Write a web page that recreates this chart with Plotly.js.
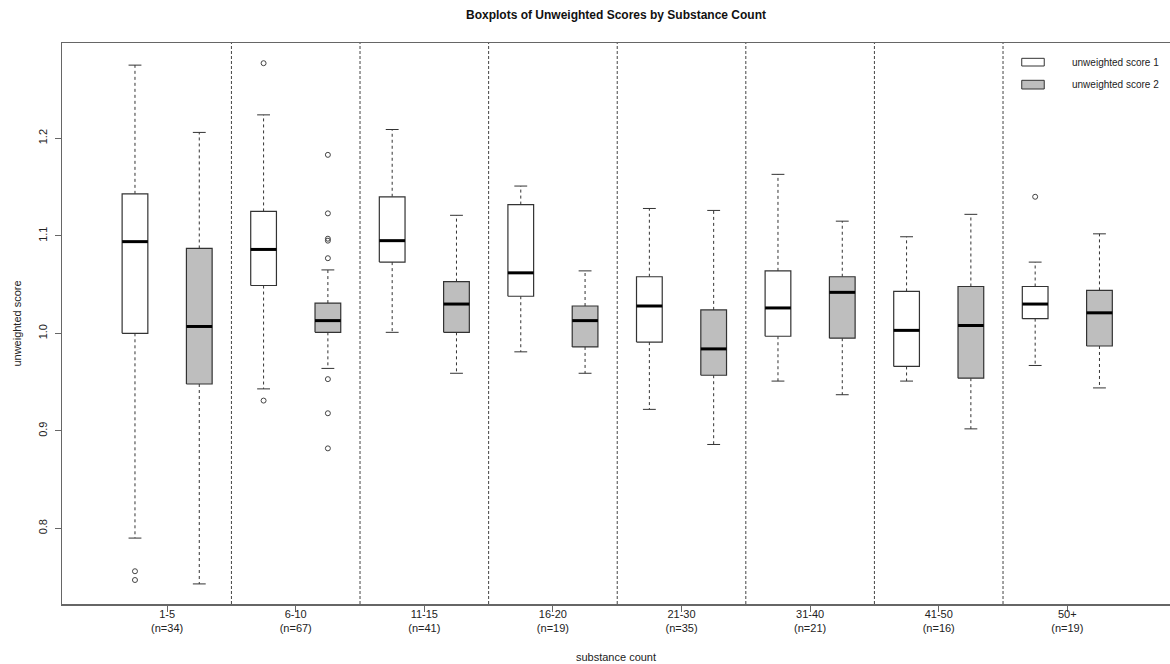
<!DOCTYPE html>
<html>
<head>
<meta charset="utf-8">
<script src="https://cdn.plot.ly/plotly-3.0.1.min.js"></script>
<style>html,body{margin:0;padding:0;background:#fff;}#chart{width:1170px;height:664px;}</style>
</head>
<body>
<div id="chart"></div>
<script>
// ---- data ----
const groups = ['1-5', '6-10', '11-15', '16-20', '21-30', '31-40', '41-50', '50+'];
const counts = [34, 67, 41, 19, 35, 21, 16, 19];

// unweighted score 1
const s1Upper = [1.275, 1.224, 1.209, 1.151, 1.128, 1.163, 1.099, 1.073];
const s1Q3    = [1.143, 1.125, 1.140, 1.132, 1.058, 1.064, 1.043, 1.048];
const s1Med   = [1.094, 1.086, 1.095, 1.062, 1.028, 1.026, 1.003, 1.030];
const s1Q1    = [1.000, 1.049, 1.073, 1.038, 0.991, 0.997, 0.966, 1.015];
const s1Lower = [0.790, 0.943, 1.001, 0.981, 0.922, 0.951, 0.951, 0.967];
const s1Out   = [[0.756, 0.747], [1.277, 0.931], [], [], [], [], [], [1.140]];

// unweighted score 2
const s2Upper = [1.206, 1.065, 1.121, 1.064, 1.126, 1.115, 1.122, 1.102];
const s2Q3    = [1.087, 1.031, 1.053, 1.028, 1.024, 1.058, 1.048, 1.044];
const s2Med   = [1.007, 1.013, 1.030, 1.013, 0.984, 1.042, 1.008, 1.021];
const s2Q1    = [0.948, 1.001, 1.001, 0.986, 0.957, 0.995, 0.954, 0.987];
const s2Lower = [0.743, 0.964, 0.959, 0.959, 0.886, 0.937, 0.902, 0.944];
const s2Out   = [[], [1.183, 1.123, 1.097, 1.095, 1.077, 0.953, 0.918, 0.882], [], [], [], [], [], []];

const seriesNames = ['unweighted score 1', 'unweighted score 2'];
const fills = ['#ffffff', '#bebebe'];

// ---- build traces ----
const HALF = 0.2, CAP = 0.1;
const edge = '#333333';
const series = [
  {upper: s1Upper, q3: s1Q3, med: s1Med, q1: s1Q1, lower: s1Lower, out: s1Out, off: 1},
  {upper: s2Upper, q3: s2Q3, med: s2Med, q1: s2Q1, lower: s2Lower, out: s2Out, off: 2}
];
const traces = [];
series.forEach((s, si) => {
  const bx = [], by = [], mx = [], my = [], wx = [], wy = [], cx = [], cy = [], ox = [], oy = [];
  groups.forEach((g, i) => {
    const p = 2 * i + s.off;
    bx.push(p - HALF, p + HALF, p + HALF, p - HALF, p - HALF, null);
    by.push(s.q1[i], s.q1[i], s.q3[i], s.q3[i], s.q1[i], null);
    mx.push(p - HALF, p + HALF, null); my.push(s.med[i], s.med[i], null);
    wx.push(p, p, null, p, p, null);
    wy.push(s.q3[i], s.upper[i], null, s.q1[i], s.lower[i], null);
    cx.push(p - CAP, p + CAP, null, p - CAP, p + CAP, null);
    cy.push(s.upper[i], s.upper[i], null, s.lower[i], s.lower[i], null);
    s.out[i].forEach(v => { ox.push(p); oy.push(v); });
  });
  traces.push({type: 'scatter', mode: 'lines', x: wx, y: wy, line: {color: edge, width: 1, dash: '3px,3px'}, hoverinfo: 'skip', showlegend: false});
  traces.push({type: 'scatter', mode: 'lines', x: cx, y: cy, line: {color: edge, width: 1}, hoverinfo: 'skip', showlegend: false});
  traces.push({type: 'scatter', mode: 'lines', x: bx, y: by, fill: 'toself', fillcolor: fills[si], line: {color: edge, width: 1.2}, name: seriesNames[si], showlegend: false});
  traces.push({type: 'scatter', mode: 'lines', x: mx, y: my, line: {color: '#000000', width: 3}, hoverinfo: 'skip', showlegend: false});
  traces.push({type: 'scatter', mode: 'markers', x: ox, y: oy, marker: {symbol: 'circle-open', size: 5, color: '#444', line: {width: 1, color: '#444'}}, showlegend: false});
});

// ---- separators & legend ----
const shapes = [];
for (let i = 1; i < groups.length; i++) {
  shapes.push({type: 'line', xref: 'x', yref: 'paper', x0: 2 * i + 0.5, x1: 2 * i + 0.5, y0: 0, y1: 1,
    line: {color: '#444', width: 1, dash: '3px,2px'}});
}
const legY = [[0.959, 0.9727], [0.918, 0.9335]];
const legTextY = [0.966, 0.926];
const annotations = [];
seriesNames.forEach((n, i) => {
  shapes.push({type: 'rect', xref: 'paper', yref: 'paper', x0: 0.8662, x1: 0.8865, y0: legY[i][0], y1: legY[i][1],
    fillcolor: fills[i], line: {color: '#333', width: 1}});
  annotations.push({xref: 'paper', yref: 'paper', x: 0.9095, y: legTextY[i], xanchor: 'left', yanchor: 'middle',
    text: n, showarrow: false, font: {size: 10, color: '#222'}});
});

const tickVals = groups.map((g, i) => 2 * i + 1.5);
const tickText = groups.map((g, i) => g + '<br>(n=' + counts[i] + ')');

const layout = {
  width: 1170, height: 664,
  margin: {l: 62, r: 0, t: 43, b: 60},
  paper_bgcolor: '#ffffff', plot_bgcolor: '#ffffff',
  font: {family: 'Liberation Sans, Arial, sans-serif', size: 11, color: '#222'},
  title: {text: '<b>Boxplots of Unweighted Scores by Substance Count</b>', x: 0.5, xref: 'paper', y: 0.978, yanchor: 'middle',
    font: {size: 12, color: '#111'}},
  xaxis: {range: [-0.135, 17.097], tickvals: tickVals, ticktext: tickText, showgrid: false, zeroline: false,
    showline: true, mirror: true, linecolor: '#666', linewidth: 1.5, ticks: 'outside', ticklen: 6, tickcolor: '#666',
    ticklabelstandoff: -7,
    title: {text: 'substance count', standoff: 20, font: {size: 11}}},
  yaxis: {range: [0.7224, 1.2977], tickvals: [0.8, 0.9, 1.0, 1.1, 1.2], ticktext: ['0.8', '0.9', '1.0', '1.1', '1.2'],
    tickangle: -90, showgrid: false, zeroline: false, showline: true, mirror: false, linecolor: '#666', linewidth: 1.5,
    ticks: 'outside', ticklen: 6, tickcolor: '#666', ticklabelstandoff: 3,
    title: {text: 'unweighted score', standoff: 13, font: {size: 11}}},
  shapes: shapes,
  annotations: annotations,
  showlegend: false
};

Plotly.newPlot('chart', traces, layout, {displayModeBar: false, staticPlot: true});
</script>
</body>
</html>
